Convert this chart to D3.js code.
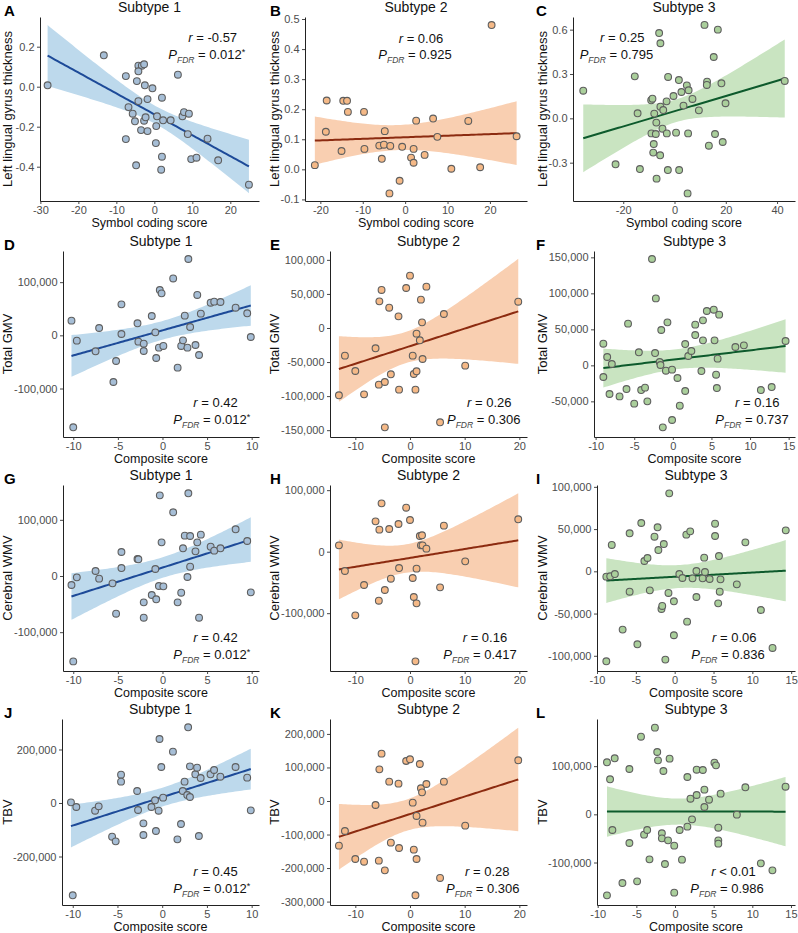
<!DOCTYPE html>
<html><head><meta charset="utf-8">
<script src="https://cdn.jsdelivr.net/npm/d3@7"></script>
<style>body{margin:0;background:#fff} svg{display:block} text{font-family:"Liberation Sans",Arial,sans-serif}</style>
</head><body><svg id="c" width="798" height="933"></svg>
<script>
// ---------------- DATA ----------------
const aX = [-28.1,-13.3,-7.5,-7.5,-4.6,-4.2,-3.3,-2.7,-4.2,-2.5,-0.5,-6.8,-5.7,-5.1,-4.2,-2.7,-2.3,-3.5,-1.8,-1.8,0.7,0.5,2.0,2.3,4.3,6.2,7.4,7.8,9.1,8.8,0.4,2.0,1.8,-4.8,9.7,11.1,14.0,16.8,24.9];
const aY = [0.007,0.157,0.053,-0.262,0.028,0.105,0.105,0.112,0.077,0.007,-0.008,-0.102,-0.135,-0.173,-0.072,-0.170,-0.153,-0.217,-0.222,-0.062,-0.148,-0.197,-0.055,-0.168,-0.168,0.060,-0.148,-0.127,-0.135,-0.237,-0.282,-0.350,-0.415,-0.393,-0.362,-0.355,-0.260,-0.368,-0.490];
const bX = [-21.3,-18.5,-18.7,-15.0,-14.6,-13.7,-13.5,-9.7,-9.6,-6.1,-5.5,-5.0,-4.8,-3.5,-3.7,-1.3,-0.7,1.4,2.0,2.0,2.6,4.6,6.6,7.6,10.9,14.9,17.7,20.4,26.3];
const bY = [0.014,0.229,0.125,0.061,0.228,0.228,0.191,0.191,0.068,0.079,0.035,0.082,0.127,0.078,-0.080,-0.038,0.075,0.039,0.068,0.022,0.162,0.048,0.169,0.108,0.002,0.161,0.007,0.480,0.110];
const cX = [-35.6,-23.0,-15.5,-14.4,-13.5,-9.1,-8.6,-9.0,-8.3,-7.9,-8.1,-7.1,-7.3,-7.0,-6.0,-5.5,-5.5,-5.6,-4.4,-4.7,-3.1,-3.0,-2.5,-2.6,-0.4,0.6,1.7,1.8,2.7,3.5,4.8,5.5,5.3,5.1,7.0,9.5,11.7,12.7,12.6,13.4,15.3,15.8,16.9,18.3,18.8,19.9,43.0];
const cY = [0.187,-0.311,0.284,0.034,-0.343,0.122,0.133,-0.102,-0.232,0.032,-0.174,-0.029,-0.106,-0.408,0.577,0.508,0.079,-0.250,0.056,-0.070,0.115,-0.102,0.280,-0.350,0.151,-0.097,0.259,-0.350,0.178,0.086,0.223,0.190,-0.102,-0.508,0.131,0.054,0.632,0.248,0.226,-0.185,0.415,-0.106,0.600,0.237,-0.160,0.102,0.253];
const dX = [-10.2,-9.6,-10.0,-7.5,-7.1,-5.5,-5.2,-4.6,-4.6,-2.8,-2.7,-2.1,-2.1,-1.2,-0.8,-0.7,-0.3,-0.1,-0.4,0.1,1.2,1.7,2.1,2.3,2.5,2.8,2.9,3.1,3.7,3.9,4.1,4.3,5.4,5.8,6.5,8.2,9.5,9.9];
const dY = [27600,-10000,-173000,-30000,13800,-87800,-48300,58300,2500,22600,-11900,-15700,-29500,36400,5600,-42600,85300,79000,-23200,-20000,107000,-60800,-20000,-9400,37000,-23200,143600,15700,-18200,75900,-37000,40800,61400,63300,62700,52000,41400,-3100];
const eX = [-13.0,-11.9,-10.0,-8.4,-6.3,-5.6,-5.7,-5.2,-4.6,-3.8,-3.5,-4.6,-2.1,-2.0,-0.7,0.0,0.5,0.7,1.0,1.2,1.2,1.8,2.0,2.2,2.3,3.0,5.5,6.2,10.1,19.8];
const eY = [-98800,-40600,-63100,-97400,-29800,39100,-83200,55800,-79300,29800,-68000,-145800,17100,-90500,58700,76800,-40600,-67500,-90500,-8300,-63600,-18100,41600,8300,-45500,60700,-138400,20500,-55300,38600];
const fX = [-9.0,-9.0,-8.5,-8.2,-7.9,-6.9,-6.0,-5.8,-5.0,-4.4,-4.1,-3.6,-3.3,-2.7,-2.3,-2.2,-1.7,-1.6,-1.5,-1.3,-0.9,-0.7,-0.1,-0.1,0.6,0.9,1.6,1.6,2.0,2.4,2.9,2.9,3.7,3.9,3.9,4.4,5.3,5.4,5.8,5.6,5.7,6.0,8.1,9.2,11.4,12.8,14.6];
const fY = [30100,-16200,11600,-39800,1900,-43100,-32900,57900,-53200,18100,-34300,-31000,-50000,147700,17100,93000,4600,500,49100,-86100,-7400,59700,-6000,-75900,-17600,-56000,29600,-35600,13000,19900,56500,42100,-7900,62500,34700,75500,77300,34700,9300,-13000,-31500,70400,25500,27800,-34300,-30100,33800];
const gX = [-10.2,-9.6,-10.0,-7.5,-7.1,-5.6,-5.2,-4.6,-4.6,-2.8,-2.7,-2.1,-2.1,-1.2,-0.8,-0.7,-0.3,-0.1,-0.4,0.1,1.2,1.7,2.1,2.3,2.5,2.8,2.9,3.1,3.1,3.7,3.9,4.1,4.3,5.4,5.8,6.5,8.2,9.5,9.9];
const gY = [-16000,-2400,-152000,8900,-4700,-13100,-67100,42700,14200,30300,29700,-46900,-74200,-33800,12500,-41500,143600,59900,-17800,-18400,113400,-46900,-29700,49300,71800,-1800,147200,16600,71200,43900,59900,-74200,73600,52200,45100,49300,83100,62300,-29100];
const hX = [-13.0,-11.9,-10.0,-8.4,-6.3,-5.6,-5.7,-5.2,-4.6,-3.8,-3.5,-2.1,-2.0,-0.7,0.0,0.5,0.7,1.0,1.2,1.2,1.8,2.0,2.2,2.3,3.0,5.5,6.2,10.1,19.8];
const hY = [10300,-31400,-103500,-54200,49300,35800,-79700,78600,-62300,36900,-43900,45000,-26600,71500,51500,-42800,-73700,-178300,-27600,-84000,25500,10300,26600,10300,4900,-58000,42300,-15700,52600];
const iX = [-8.8,-8.3,-7.7,-8.1,-8.8,-6.7,-5.8,-5.8,-4.8,-4.3,-3.9,-3.5,-3.2,-2.6,-2.2,-2.1,-1.7,-1.6,-1.4,-1.2,-0.8,-0.7,-0.1,-0.1,0.6,1.0,1.5,1.6,2.0,2.3,2.8,2.8,3.6,3.8,3.9,4.5,5.2,5.2,5.6,5.7,5.8,5.9,8.0,9.1,11.1,12.6,14.3];
const iY = [-6300,-5900,-3200,31200,-106500,-69000,-24100,45000,-86400,57200,12200,15800,-22500,41000,52100,25200,-44600,-41000,32300,-104500,-25600,92300,-35500,-75700,-3200,-7900,43400,-59600,47300,-8300,400,-30400,-8300,16200,-800,-9100,41800,56400,-37900,18100,-24100,-9500,-15400,34300,-45800,-90700,48500];
const jX = [-10.2,-9.6,-10.0,-7.5,-7.1,-5.6,-5.2,-4.6,-4.6,-2.8,-2.7,-2.1,-2.1,-1.2,-0.8,-0.7,-0.3,-0.1,-0.4,0.1,1.2,1.7,2.1,2.3,2.5,2.8,2.9,3.1,3.1,3.7,3.9,4.1,4.3,5.4,5.8,6.5,8.2,9.5,9.9];
const jY = [2500,-15000,-345000,-28700,-12500,-125900,-143300,105900,79800,44900,-26200,-76000,-119600,-15000,10000,-104700,239300,134600,-28700,19900,191900,-135800,-78500,44900,79800,29900,282900,22400,137000,107200,132100,-123400,93500,107200,123400,98400,134600,94700,-27400];
const kX = [-13.0,-11.9,-10.0,-8.4,-6.3,-5.6,-5.7,-5.2,-4.6,-3.8,-3.5,-2.1,-2.0,-0.7,0.0,0.5,0.7,1.0,1.2,1.2,1.8,2.0,2.2,2.3,3.0,5.5,6.2,10.1,19.8];
const kY = [-133200,-89500,-173000,-181000,-11900,94400,-178000,141200,-206800,57700,-124300,51700,-140200,119300,124300,-5000,-145100,-281300,-44700,-173000,110300,37800,25800,-64600,50700,-229600,57700,-73600,121300];
const lX = [-8.8,-8.8,-8.4,-8.1,-7.8,-6.8,-5.9,-5.9,-4.9,-4.4,-4.0,-3.6,-3.3,-2.6,-2.3,-2.2,-1.7,-1.7,-1.5,-1.3,-0.9,-0.7,-0.1,-0.1,0.6,0.9,1.6,1.6,2.0,2.2,2.8,2.8,3.6,3.8,3.8,4.4,5.1,5.3,5.6,5.6,5.6,5.9,8.0,9.1,11.1,12.6,14.3];
const lY = [108000,-168200,72700,-32500,116300,-142600,94100,-59500,-139100,161200,-42200,-32500,-93400,179900,129400,112100,-39400,-49800,90000,-103100,-54000,115600,-65000,-162600,-32500,-94100,77500,-25600,32500,-10400,40100,92700,92000,51200,15200,30400,107300,101700,-54000,-27700,-60900,42900,-700,56100,-101700,-116300,57400];

// tick values
const xTicksA = [-30,-20,-10,0,10,20];
const xTicksB = [-20,-10,0,10,20];
const xTicksC = [-20,0,20,40];
const xTicks1 = [-10,-5,0,5,10];
const xTicks2 = [-10,0,10,20];
const xTicks3 = [-10,-5,0,5,10,15];
const yTicksA = [-0.4,-0.2,0,0.2];
const yTicksB = [-0.1,0,0.1,0.2,0.3,0.4,0.5];
const yTicksC = [-0.3,0,0.3,0.6];
const yTicksD = [-100000,0,100000];
const yTicksE = [-150000,-100000,-50000,0,50000,100000];
const yTicksF = [-50000,0,50000,100000,150000];
const yTicksG = [-100000,0,100000];
const yTicksH = [-100000,0,100000];
const yTicksI = [-100000,-50000,0,50000,100000];
const yTicksJ = [-200000,0,200000];
const yTicksK = [-300000,-200000,-100000,0,100000,200000];
const yTicksL = [-100000,0,100000];

// statistics labels
const rValues = ["-0.57","0.06","0.25","0.42","0.26","0.16","0.42","0.16","0.06","0.45","0.28","0.01"];
const rOps    = ["=","=","=","=","=","=","=","=","=","=","=","<"];
const pValues = ["0.012","0.925","0.795","0.012","0.306","0.737","0.012","0.417","0.836","0.012","0.306","0.986"];
const pStars  = [true,false,false,true,false,false,true,false,false,true,false,false];

// ---------------- LAYOUT / STYLE ----------------
const palette = {
  1:{pt:"#a6bed6", line:"#1d4a98", band:"#bdd9ec"},
  2:{pt:"#f5b987", line:"#8c2b10", band:"#f9cfb1"},
  3:{pt:"#aacf9b", line:"#0d5a2c", band:"#c9e4c1"}
};
const rowTop = [17,251,485,719], rowBot = [201,437,671,905];
const colRight = [259,527,795], colOrigin = [0,266,532];
const yTitleX = [12,278.5,546.5];
const minus = s => s.replace(/\u2212/g,"-");
const f1 = v => minus(d3.format(".1f")(v));
const fc = v => minus(d3.format(",")(v));
const fi = v => minus(d3.format("d")(v));

const panels = [
 {L:"A",s:1,row:0,col:0,left:40, x:aX,y:aY,xd:[-30.1,27.55],yd:[-0.5715,0.3485],xt:xTicksA,yt:yTicksA,yf:f1,xlab:"Symbol coding score",ylab:"Left lingual gyrus thickness",rp:[188.3,42],pp:[168.3,59]},
 {L:"B",s:2,row:0,col:1,left:305,x:bX,y:bY,xd:[-23.62,28.75],yd:[-0.1053,0.5067],xt:xTicksB,yt:yTicksB,yf:f1,xlab:"Symbol coding score",ylab:"Left lingual gyrus thickness",rp:[398.7,42.5],pp:[378.3,59]},
 {L:"C",s:3,row:0,col:2,left:573,x:cX,y:cY,xd:[-39.6,47.0],yd:[-0.5593,0.6856],xt:xTicksC,yt:yTicksC,yf:f1,xlab:"Symbol coding score",ylab:"Left lingual gyrus thickness",rp:[600,42.3],pp:[579.7,59]},
 {L:"D",s:1,row:1,col:0,left:63, x:dX,y:dY,xd:[-11.15,10.82],yd:[-191200,158600],xt:xTicks1,yt:yTicksD,yf:fc,xlab:"Composite score",ylab:"Total GMV",rp:[193.3,407],pp:[173.3,424]},
 {L:"E",s:2,row:1,col:1,left:330,x:eX,y:eY,xd:[-14.63,21.4],yd:[-160000,113000],xt:xTicks2,yt:yTicksE,yf:fc,xlab:"Composite score",ylab:"Total GMV",rp:[467,407],pp:[447,424]},
 {L:"F",s:3,row:1,col:2,left:594,x:fX,y:fY,xd:[-10.21,15.82],yd:[-99500,158800],xt:xTicks3,yt:yTicksF,yf:fc,xlab:"Composite score",ylab:"Total GMV",rp:[735,407],pp:[715.3,424]},
 {L:"G",s:1,row:2,col:0,left:63, x:gX,y:gY,xd:[-11.15,10.82],yd:[-169100,162000],xt:xTicks1,yt:yTicksG,yf:fc,xlab:"Composite score",ylab:"Cerebral WMV",rp:[193.3,642],pp:[173.3,658.7]},
 {L:"H",s:2,row:2,col:1,left:330,x:hX,y:hY,xd:[-14.63,21.4],yd:[-194000,108400],xt:xTicks2,yt:yTicksH,yf:fc,xlab:"Composite score",ylab:"Cerebral WMV",rp:[462.7,642],pp:[443.3,658.7]},
 {L:"I",s:3,row:2,col:2,left:597,x:iX,y:iY,xd:[-10.0,15.49],yd:[-118000,102200],xt:xTicks3,yt:yTicksI,yf:fc,xlab:"Composite score",ylab:"Cerebral WMV",rp:[712,642],pp:[691.3,658.7]},
 {L:"J",s:1,row:3,col:0,left:62, x:jX,y:jY,xd:[-11.2,10.82],yd:[-381300,314000],xt:xTicks1,yt:yTicksJ,yf:fc,xlab:"Composite score",ylab:"TBV",rp:[193.3,876],pp:[173.3,892.7]},
 {L:"K",s:2,row:3,col:1,left:330,x:kX,y:kY,xd:[-14.63,21.4],yd:[-310200,244500],xt:xTicks2,yt:yTicksK,yf:fc,xlab:"Composite score",ylab:"TBV",rp:[465,876],pp:[446,892.7]},
 {L:"L",s:3,row:3,col:2,left:597,x:lX,y:lY,xd:[-10.09,15.52],yd:[-188200,197900],xt:xTicks3,yt:yTicksL,yf:fc,xlab:"Composite score",ylab:"TBV",rp:[711.3,876],pp:[690.3,892.7]}
];

// OLS fit with 95% confidence band (as geom_smooth(method="lm"))
function tq(df){
  const z=1.959964, z3=z*z*z, z5=z3*z*z, z7=z5*z*z;
  return z + (z3+z)/(4*df) + (5*z5+16*z3+3*z)/(96*df*df) + (3*z7+19*z5+17*z3-15*z)/(384*df*df*df);
}
function fit(xs, ys){
  const n=xs.length, mx=d3.mean(xs), my=d3.mean(ys);
  let sxx=0,sxy=0; for(let i=0;i<n;i++){sxx+=(xs[i]-mx)**2; sxy+=(xs[i]-mx)*(ys[i]-my);}
  const b=sxy/sxx, a=my-b*mx;
  let sse=0; for(let i=0;i<n;i++){sse+=(ys[i]-a-b*xs[i])**2;}
  const s=Math.sqrt(sse/(n-2)), t=tq(n-2);
  const [x0,x1]=d3.extent(xs);
  return d3.range(81).map(k=>{
    const x=x0+(x1-x0)*k/80, yh=a+b*x, se=s*Math.sqrt(1/n+(x-mx)**2/sxx);
    return {x, fit:yh, lo:yh-t*se, hi:yh+t*se};
  });
}

const svg = d3.select("#c");
const defs = svg.append("defs");

panels.forEach((p,idx)=>{
  const pal = palette[p.s];
  const top=rowTop[p.row], bot=rowBot[p.row], right=colRight[p.col];
  const xs=d3.scaleLinear().domain(p.xd).range([p.left,right]);
  const ys=d3.scaleLinear().domain(p.yd).range([bot,top]);
  const cid="clip"+p.L;
  defs.append("clipPath").attr("id",cid).append("rect")
    .attr("x",p.left).attr("y",top).attr("width",right-p.left).attr("height",bot-top);
  const g=svg.append("g");
  const grid=fit(p.x,p.y);
  g.append("path").datum(grid).attr("clip-path",`url(#${cid})`)
    .attr("d",d3.area().x(d=>xs(d.x)).y0(d=>ys(d.lo)).y1(d=>ys(d.hi)))
    .attr("fill",pal.band);
  g.append("path").datum(grid).attr("clip-path",`url(#${cid})`)
    .attr("d",d3.line().x(d=>xs(d.x)).y(d=>ys(d.fit)))
    .attr("fill","none").attr("stroke",pal.line).attr("stroke-width",2);
  g.selectAll("circle.pt").data(p.x.map((v,i)=>[v,p.y[i]])).join("circle")
    .attr("cx",d=>xs(d[0])).attr("cy",d=>ys(d[1])).attr("r",3.4)
    .attr("fill",pal.pt).attr("stroke","#5e5e5e").attr("stroke-width",1.1);

  // axes
  const ax=g.append("g").attr("transform",`translate(0,${bot})`)
    .call(d3.axisBottom(xs).tickValues(p.xt).tickFormat(fi).tickSize(3).tickSizeOuter(0).tickPadding(2.2));
  const ay=g.append("g").attr("transform",`translate(${p.left},0)`)
    .call(d3.axisLeft(ys).tickValues(p.yt).tickFormat(p.yf).tickSize(3).tickSizeOuter(0).tickPadding(2.5));
  [ax,ay].forEach(a=>{
    a.select(".domain").attr("stroke","#222").attr("stroke-width",1);
    a.selectAll(".tick line").attr("stroke","#333").attr("stroke-width",0.9);
    a.selectAll(".tick text").attr("fill","#4d4d4d").attr("font-size",11)
      .attr("font-family",'"Liberation Sans",Arial,sans-serif');
  });

  // titles
  svg.append("text").attr("x",(p.left+right)/2).attr("y",top-5).attr("text-anchor","middle")
    .attr("font-size",14).attr("fill","#111").text("Subtype "+p.s);
  svg.append("text").attr("x",colOrigin[p.col]+4).attr("y",top-1).attr("font-size",15)
    .attr("font-weight","bold").attr("fill","#000").text(p.L);
  svg.append("text").attr("x",(p.left+right)/2).attr("y",bot+26).attr("text-anchor","middle")
    .attr("font-size",12.5).attr("fill","#111").text(p.xlab);
  svg.append("text").attr("transform",`translate(${yTitleX[p.col]},${(top+bot)/2}) rotate(-90)`)
    .attr("text-anchor","middle").attr("font-size",13).attr("fill","#111").text(p.ylab);

  // stats annotation
  const t1=svg.append("text").attr("x",p.rp[0]).attr("y",p.rp[1]).attr("font-size",13).attr("fill","#111");
  t1.append("tspan").attr("font-style","italic").text("r");
  t1.append("tspan").text(" "+rOps[idx]+" "+rValues[idx]);
  const t2=svg.append("text").attr("x",p.pp[0]).attr("y",p.pp[1]).attr("font-size",13).attr("fill","#111");
  t2.append("tspan").attr("font-style","italic").text("P");
  t2.append("tspan").attr("font-style","italic").attr("font-size",8.5).attr("dy",4).attr("fill","#444").text("FDR");
  t2.append("tspan").attr("dy",-4).text(" = "+pValues[idx]);
  if(pStars[idx]) t2.append("tspan").attr("font-size",9).attr("dy",-4).text("*");
});
</script></body></html>
